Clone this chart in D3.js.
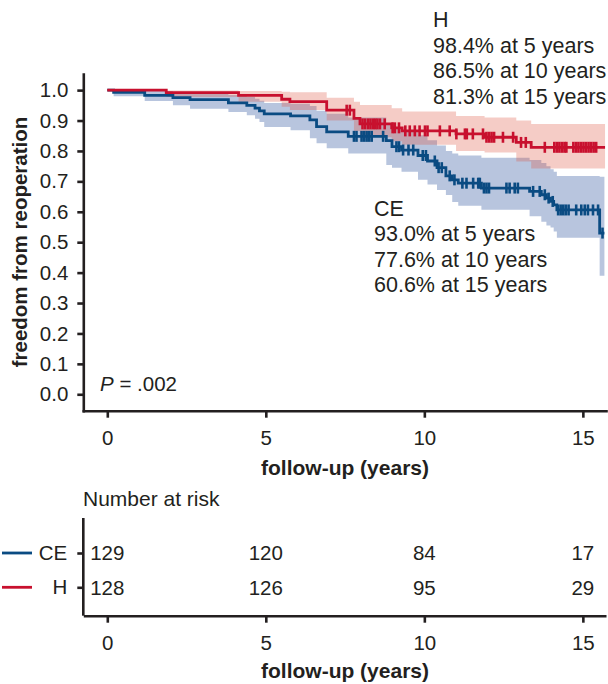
<!DOCTYPE html>
<html>
<head>
<meta charset="utf-8">
<script src="https://cdn.jsdelivr.net/npm/d3@7/dist/d3.min.js"></script>
<style>
  body { margin: 0; background: #fff; }
  svg { display: block; font-family: "Liberation Sans", Arial, sans-serif; }
  .axis path, .axis line { stroke: #231f20; stroke-width: 2.6; }
  .axis text { font-size: 20.5px; fill: #231f20; }
</style>
</head>
<body>
<svg id="root" width="608" height="684"></svg>
<script>
// step points (years, survival)
const ceTime  = [0, 0.2, 1.18, 2.07, 2.61, 3.82, 4.4, 4.66, 4.8, 4.95, 5.78, 6.39, 6.6, 6.92, 7.6, 8.8, 8.98, 9.28, 9.8, 10.1, 10.4, 10.68, 10.88, 11.07, 11.8, 13.32, 13.69, 13.85, 13.98, 14.08, 14.18, 15.53]
const ceSurv  = [1, .993, .983, .975, .969, .958, .95, .941, .932, .922, .915, .902, .88, .863, .848, .834, .814, .803, .785, .767, .745, .718, .705, .694, .678, .667, .656, .645, .634, .623, .606, .53]
const ceLower = [1, .98, .964, .95, .939, .928, .917, .906, .895, .879, .868, .842, .825, .809, .792, .754, .745, .732, .705, .69, .672, .655, .632, .62, .607, .585, .567, .555, .548, .535, .515, .39]
const ceUpper = [1, 1, .997, .993, .99, .984, .978, .972, .965, .958, .955, .948, .932, .922, .91, .888, .875, .866, .852, .835, .818, .8, .792, .785, .778, .77, .76, .75, .74, .732, .718, .715]
const ceEnd = 15.68
const ceCensor = [7.78, 7.86, 8.02, 8.1, 8.18, 8.26, 8.34, 8.7, 9.12, 9.2, 9.33, 9.5, 9.65, 9.95, 10.05, 10.33, 10.45, 10.55, 10.8, 10.95, 11.2, 11.33, 11.54, 11.7, 11.75, 11.88, 11.96, 12.04, 12.59, 12.69, 12.85, 12.95, 13.43, 13.64, 13.8, 13.92, 14.05, 14.22, 14.3, 14.38, 14.46, 14.55, 14.79, 14.95, 15.06, 15.16, 15.32, 15.48, 15.62]

const hTime  = [0, 1.86, 4.14, 5.5, 5.76, 6.92, 7.78, 7.97, 8.97, 9.3, 11.0, 11.9, 12.9, 13.37]
const hSurv  = [1, .992, .983, .97, .962, .934, .907, .889, .876, .866, .856, .845, .828, .812]
const hLower = [1, .977, .962, .945, .935, .9, .866, .845, .832, .82, .8, .795, .765, .742]
const hUpper = [1, .999, .997, .995, .993, .975, .962, .951, .94, .93, .915, .91, .9, .889]
const hEnd = 15.7
const hCensor = [7.55, 7.65, 8.05, 8.13, 8.22, 8.3, 8.38, 8.45, 8.52, 8.6, 8.75, 9.0, 9.07, 9.2, 9.4, 9.54, 9.7, 9.85, 10.02, 10.1, 10.49, 10.8, 11.01, 11.28, 11.34, 11.53, 11.85, 11.96, 12.04, 12.12, 12.2, 12.48, 12.8, 13.05, 13.2, 13.8, 14.1, 14.18, 14.26, 14.34, 14.42, 14.48, 14.7, 14.78, 14.86, 14.94, 15.02, 15.1, 15.18, 15.26, 15.34, 15.42]

const xTicks = [0, 5, 10, 15]
const yTicks = [0, .1, .2, .3, .4, .5, .6, .7, .8, .9, 1]
const groups = ['CE', 'H']
const riskCE = [129, 120, 84, 17]
const riskH = [128, 126, 95, 29]
const ceNotes = ['CE', '93.0% at 5 years', '77.6% at 10 years', '60.6% at 15 years']
const hNotes = ['H', '98.4% at 5 years', '86.5% at 10 years', '81.3% at 15 years']

const blue = '#0a4b82'
const red = '#c8102e'
const ink = '#231f20'

let root = d3.select('#root')

let x = d3.scaleLinear().domain([-0.757, 15.73]).range([83.3, 606])
let y = d3.scaleLinear().domain([-0.054, 1.053]).range([410.7, 74])

function steps (time, vals, end) {
  let pts = time.map((t, i) => ({ t: t, v: vals[i] }))
  pts.push({ t: end, v: vals[vals.length - 1] })
  return pts
}
function band (time, lo, hi, end) {
  let pts = time.map((t, i) => ({ t: t, lo: lo[i], hi: hi[i] }))
  pts.push({ t: end, lo: lo[lo.length - 1], hi: hi[hi.length - 1] })
  return pts
}
function survAt (time, vals, t) {
  return vals[d3.bisectRight(time, t) - 1]
}

let area = d3.area().curve(d3.curveStepAfter)
  .x((d) => x(d.t)).y0((d) => y(d.lo)).y1((d) => y(d.hi))
let line = d3.line().curve(d3.curveStepAfter)
  .x((d) => x(d.t)).y((d) => y(d.v))

// confidence bands
root.append('path')
  .attr('d', area(band(ceTime, ceLower, ceUpper, ceEnd)))
  .attr('fill', '#b8c5de')
root.append('path')
  .attr('d', area(band(hTime, hLower, hUpper, hEnd)))
  .attr('fill', 'rgb(222,85,65)')
  .attr('fill-opacity', 0.3)

// curves
let series = [
  { time: ceTime, surv: ceSurv, end: ceEnd, censor: ceCensor, color: blue },
  { time: hTime, surv: hSurv, end: hEnd, censor: hCensor, color: red }
]
series.forEach((s) => {
  root.append('path')
    .attr('d', line(steps(s.time, s.surv, s.end)))
    .attr('fill', 'none')
    .attr('stroke', s.color)
    .attr('stroke-width', 2.8)
  root.append('g').selectAll('line').data(s.censor).enter().append('line')
    .attr('x1', (d) => x(d)).attr('x2', (d) => x(d))
    .attr('y1', (d) => y(survAt(s.time, s.surv, d)) - 5.5)
    .attr('y2', (d) => y(survAt(s.time, s.surv, d)) + 5.5)
    .attr('stroke', s.color)
    .attr('stroke-width', 2.6)
})

// axes
root.append('g').attr('class', 'axis')
  .attr('transform', 'translate(83.3,0)')
  .call(d3.axisLeft(y).tickValues(yTicks).tickFormat(d3.format('.1f'))
    .tickSize(6).tickSizeOuter(0).tickPadding(9))
root.append('g').attr('class', 'axis')
  .attr('transform', 'translate(0,410.7)')
  .call(d3.axisBottom(x).tickValues(xTicks).tickSize(7).tickSizeOuter(0).tickPadding(13))
root.selectAll('.axis .domain').attr('stroke-linecap', 'square')

root.append('text')
  .attr('transform', 'translate(27,242) rotate(-90)')
  .attr('text-anchor', 'middle')
  .attr('font-size', 20.5).attr('font-weight', 'bold').attr('fill', ink)
  .text('freedom from reoperation')
root.append('text')
  .attr('x', 345).attr('y', 475)
  .attr('text-anchor', 'middle')
  .attr('font-size', 21).attr('font-weight', 'bold').attr('fill', ink)
  .text('follow-up (years)')

let pText = root.append('text')
  .attr('x', 100).attr('y', 391)
  .attr('font-size', 20.5).attr('fill', ink)
pText.append('tspan').attr('font-style', 'italic').text('P')
pText.append('tspan').text(' = .002')

// annotations
root.append('g').selectAll('text').data(hNotes).enter().append('text')
  .attr('x', 433).attr('y', (d, i) => 27 + i * 25.7)
  .attr('font-size', 21.5).attr('fill', ink)
  .text((d) => d)
root.append('g').selectAll('text').data(ceNotes).enter().append('text')
  .attr('x', 374).attr('y', (d, i) => 215.5 + i * 25.5)
  .attr('font-size', 21.5).attr('fill', ink)
  .text((d) => d)

// number at risk table
root.append('text')
  .attr('x', 83).attr('y', 506)
  .attr('font-size', 21).attr('fill', ink)
  .text('Number at risk')

let row = d3.scalePoint().domain(groups).range([553, 587.3])
root.append('g').attr('class', 'axis')
  .attr('transform', 'translate(0,615.7)')
  .call(d3.axisBottom(x).tickValues(xTicks).tickSize(7).tickSizeOuter(0).tickPadding(12.5))
let rowAxis = root.append('g').attr('class', 'axis')
  .attr('transform', 'translate(83.3,0)')
  .call(d3.axisLeft(row).tickSize(6).tickSizeOuter(0).tickPadding(10))
rowAxis.select('.domain').remove()
root.append('line')
  .attr('x1', 83.3).attr('x2', 83.3).attr('y1', 518).attr('y2', 615.7)
  .attr('stroke', ink).attr('stroke-width', 2.6)

root.append('g').selectAll('line').data(groups).enter().append('line')
  .attr('x1', 2).attr('x2', 32)
  .attr('y1', (d) => row(d)).attr('y2', (d) => row(d))
  .attr('stroke', (d, i) => [blue, red][i])
  .attr('stroke-width', 2.8)

;[riskCE, riskH].forEach((vals, i) => {
  root.append('g').selectAll('text').data(vals).enter().append('text')
    .attr('x', (d, j) => x(xTicks[j]))
    .attr('y', row(groups[i]))
    .attr('dy', '0.36em')
    .attr('text-anchor', 'middle')
    .attr('font-size', 20.5).attr('fill', ink)
    .text((d) => d)
})

root.append('text')
  .attr('x', 345).attr('y', 678)
  .attr('text-anchor', 'middle')
  .attr('font-size', 21).attr('font-weight', 'bold').attr('fill', ink)
  .text('follow-up (years)')
</script>
</body>
</html>
